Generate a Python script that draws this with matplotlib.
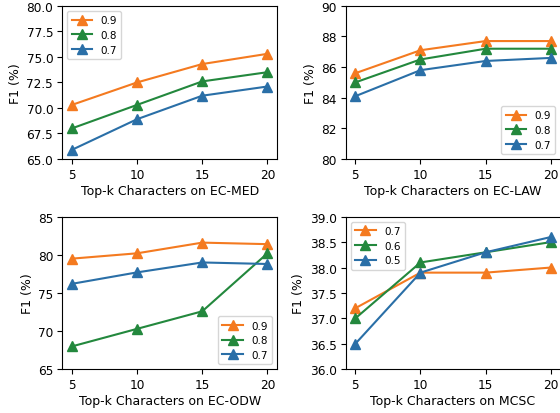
import matplotlib
matplotlib.use("Agg")
import matplotlib.pyplot as plt
from matplotlib.ticker import FormatStrFormatter

k = [5, 10, 15, 20]

med_labels = ["0.9", "0.8", "0.7"]
med_09 = [70.3, 72.5, 74.3, 75.3]
med_08 = [68.0, 70.3, 72.6, 73.5]
med_07 = [65.9, 68.9, 71.2, 72.1]

law_labels = ["0.9", "0.8", "0.7"]
law_09 = [85.6, 87.1, 87.7, 87.7]
law_08 = [85.0, 86.5, 87.2, 87.2]
law_07 = [84.1, 85.8, 86.4, 86.6]

odw_labels = ["0.9", "0.8", "0.7"]
odw_09 = [79.5, 80.2, 81.6, 81.4]
odw_08 = [68.0, 70.3, 72.6, 80.2]
odw_07 = [76.2, 77.7, 79.0, 78.8]

mcsc_labels = ["0.7", "0.6", "0.5"]
mcsc_07 = [37.2, 37.9, 37.9, 38.0]
mcsc_06 = [37.0, 38.1, 38.3, 38.5]
mcsc_05 = [36.5, 37.9, 38.3, 38.6]

colors = ["#f47a20", "#23883d", "#2a6fa7"]

fig = plt.figure(figsize=(5.6, 4.14), dpi=100)
W = 0.384
positions = [
    [0.111, 0.6135, W, 0.370],
    [0.617, 0.6135, W, 0.370],
    [0.111, 0.1056, W, 0.3686],
    [0.617, 0.1056, W, 0.3686],
]
panels = [
    ("Top-k Characters on EC-MED", med_labels, [med_09, med_08, med_07], (65, 80), [65, 67.5, 70, 72.5, 75, 77.5, 80], "%.1f", "upper left"),
    ("Top-k Characters on EC-LAW", law_labels, [law_09, law_08, law_07], (80, 90), [80, 82, 84, 86, 88, 90], "%d", "lower right"),
    ("Top-k Characters on EC-ODW", odw_labels, [odw_09, odw_08, odw_07], (65, 85), [65, 70, 75, 80, 85], "%d", "lower right"),
    ("Top-k Characters on MCSC", mcsc_labels, [mcsc_07, mcsc_06, mcsc_05], (36, 39), [36, 36.5, 37, 37.5, 38, 38.5, 39], "%.1f", "upper left"),
]
for pos, (xl, labels, series, ylim, yticks, fmt, loc) in zip(positions, panels):
    ax = fig.add_axes(pos)
    for lab, vals, c in zip(labels, series, colors):
        ax.plot(k, vals, marker="^", color=c, label=lab, markersize=6.5, linewidth=1.5)
    ax.set_ylim(*ylim)
    ax.set_yticks(yticks)
    ax.yaxis.set_major_formatter(FormatStrFormatter(fmt))
    ax.set_xticks(k)
    ax.set_xlabel(xl, fontsize=9, labelpad=2)
    ax.set_ylabel("F1 (%)", fontsize=9, labelpad=3)
    ax.tick_params(labelsize=8.7, width=0.8, length=3.5, pad=3)
    ax.legend(loc=loc, fontsize=7.5, handlelength=2.0, borderpad=0.4, labelspacing=0.45)

fig.savefig("out.png", dpi=100)
